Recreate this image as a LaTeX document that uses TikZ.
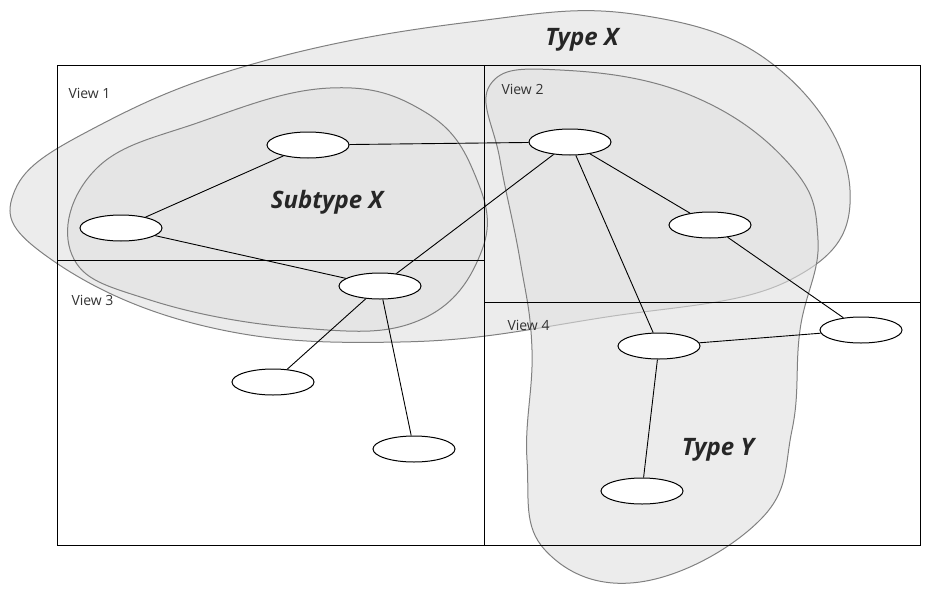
\documentclass[tikz,border=0pt]{standalone}
\usepackage{fontspec}
\setmainfont{Open Sans}
\usetikzlibrary{shapes.geometric}
\begin{document}
\begin{tikzpicture}[x=1pt,y=-1pt,
  blob/.style={draw=black!50,line width=1pt,fill=black!12,fill opacity=0.6},
  nd/.style={draw,ellipse,fill=white,minimum width=82pt,minimum height=26pt,inner sep=0pt,line width=1pt},
  lbl/.style={font=\bfseries\itshape\fontsize{24}{26}\selectfont,text=black!85},
  vw/.style={font=\fontsize{14}{16}\selectfont,text=black!80,anchor=north west},
  ed/.style={line width=0.9pt}]
\useasboundingbox (0,0) rectangle (949,594);
% blobs
\draw[blob] plot[smooth cycle,tension=0.7] coordinates{(15,190) (100,125) (260,62) (470,22) (640,15) (780,70) (850,190) (790,280) (600,318) (400,342) (200,325) (45,255)};
\draw[blob] plot[smooth cycle,tension=0.7] coordinates{(72,255) (95,170) (200,122) (330,88) (425,112) (475,175) (482,250) (420,320) (300,328) (150,300)};
\draw[blob] plot[smooth cycle,tension=0.7] coordinates{(490,85) (560,70) (690,95) (790,165) (818,240) (800,330) (792,430) (760,520) (640,582) (545,550) (527,460) (532,350) (520,260) (500,160)};
% frame
\draw[line width=0.6pt] (57,65) rectangle (920,545);
\draw[line width=0.6pt] (484,65) -- (484,545);
\draw[line width=0.6pt] (57,260) -- (484,260);
\draw[line width=0.6pt] (484,302) -- (920,302);
% labels
\node[lbl] (tx) at (582,40) {Type X};
\node[lbl] (st) at (327,202) {Subtype X};
\node[lbl] (ty) at (718,450) {Type Y};
\node[vw] (v1) at (65,85) {View 1};
\node[vw] (v2) at (498,81) {View 2};
\node[vw] (v3) at (68,292) {View 3};
\node[vw] (v4) at (504,317) {View 4};
% nodes
\node[nd] (A) at (308,145) {};
\node[nd] (B) at (121,228) {};
\node[nd] (C) at (570,142) {};
\node[nd] (D) at (710,225) {};
\node[nd] (E) at (380,286) {};
\node[nd] (F) at (273,382) {};
\node[nd] (G) at (414,449) {};
\node[nd] (H) at (659,346) {};
\node[nd] (I) at (861,330) {};
\node[nd] (J) at (642,491) {};
\draw[ed] (A) -- (B);
\draw[ed] (A) -- (C);
\draw[ed] (B) -- (E);
\draw[ed] (C) -- (E);
\draw[ed] (C) -- (D);
\draw[ed] (C) -- (H);
\draw[ed] (D) -- (I);
\draw[ed] (H) -- (I);
\draw[ed] (E) -- (F);
\draw[ed] (E) -- (G);
\draw[ed] (H) -- (J);
\end{tikzpicture}
\end{document}
